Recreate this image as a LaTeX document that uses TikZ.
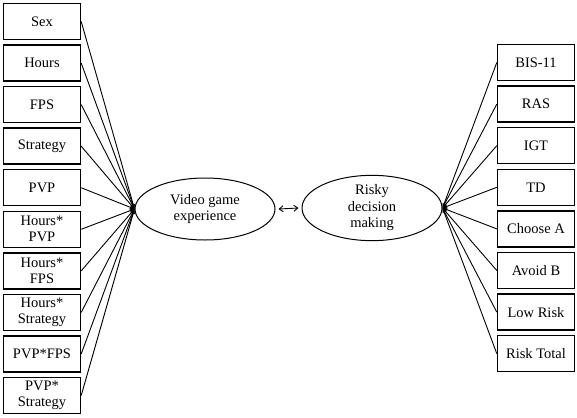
\documentclass[tikz,border=0pt]{standalone}
\usepackage{fontspec}
\setmainfont{Liberation Serif}
\usetikzlibrary{shapes.geometric,arrows.meta}
\begin{document}
\begin{tikzpicture}[x=1pt,y=-1pt,
  box/.style={draw,line width=1.4pt,minimum width=77pt,minimum height=36pt,inner sep=1pt,align=center,font=\fontsize{14.5}{16}\selectfont},
  ell/.style={draw,ellipse,line width=1pt,inner sep=0pt,align=center,font=\fontsize{14.5}{16.5}\selectfont},
  conn/.style={line width=0.9pt,-{Stealth[length=5pt,width=3.5pt]}},
  dbl/.style={line width=0.9pt,{Straight Barb[length=4pt,width=6pt]}-{Straight Barb[length=4pt,width=6pt]}}]
\useasboundingbox (0,0) rectangle (577,417);
\node[ell,minimum width=140pt,minimum height=62pt] (vge) at (205,209) {Video game\\experience};
\node[ell,minimum width=140pt,minimum height=60pt] (rdm) at (372,208) {Risky\\decision\\making};
\path (vge.east) ++(3,0) coordinate (da) (rdm.west) ++(-3,0) coordinate (db);
\draw[dbl] (da) -- (db);
\foreach \t [count=\i from 0] in {Sex,Hours,FPS,Strategy,PVP,{Hours*\\PVP},{Hours*\\FPS},{Hours*\\Strategy},PVP*FPS,{PVP*\\Strategy}}{
  \node[box] (l\i) at (42,{21.5+41.56*\i}) {\t};
  \draw[conn] (l\i.east) -- (vge.west);
}
\foreach \t [count=\i from 0] in {BIS-11,RAS,IGT,TD,Choose A,Avoid B,Low Risk,Risk Total}{
  \node[box] (r\i) at (536,{62.5+41.6*\i}) {\t};
  \draw[conn] (r\i.west) -- (rdm.east);
}
\end{tikzpicture}
\end{document}
